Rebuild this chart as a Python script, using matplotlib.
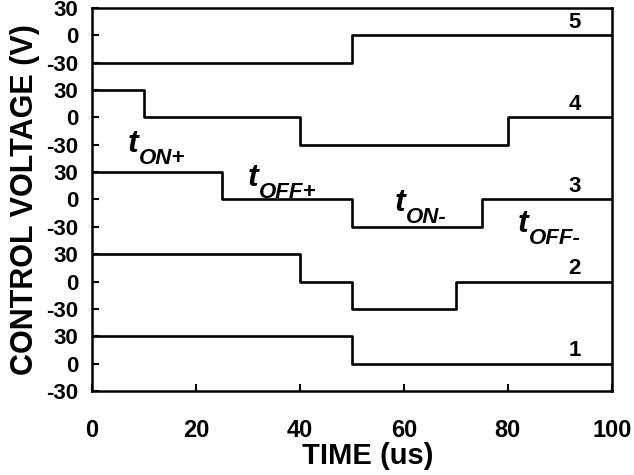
"""
Senales de control escalonadas (5 canales) frente al tiempo.
"""
import matplotlib
matplotlib.use('Agg')
import matplotlib.pyplot as plt

plt.rcParams['font.family'] = ['Liberation Sans', 'DejaVu Sans']
plt.rcParams['font.weight'] = 'bold'

# Datos: instantes de cambio (us) y niveles (V) de cada canal
canales = ['1', '2', '3', '4', '5']
cambios_1 = [0, 50, 100]
niveles_1 = [30, 0]
cambios_2 = [0, 40, 50, 70, 100]
niveles_2 = [30, 0, -30, 0]
cambios_3 = [0, 25, 50, 75, 100]
niveles_3 = [30, 0, -30, 0]
cambios_4 = [0, 10, 40, 80, 100]
niveles_4 = [30, 0, -30, 0]
cambios_5 = [0, 50, 100]
niveles_5 = [-30, 0]

separacion = 90  # desplazamiento vertical entre canales
ticks_y = [-30, 0, 30]
ticks_x = [0, 20, 40, 60, 80, 100]

# Etiquetas de tiempos sobre el canal 3: (subindice, x, y relativo al canal 3)
etiquetas_t = [
    ('ON+', 6.9, 52),
    ('OFF+', 30.0, 15),
    ('ON-', 58.3, -12.5),
    ('OFF-', 81.9, -36),
]

senales = [
    (cambios_1, niveles_1),
    (cambios_2, niveles_2),
    (cambios_3, niveles_3),
    (cambios_4, niveles_4),
    (cambios_5, niveles_5),
]

fig = plt.figure(figsize=(6.34, 4.75), dpi=100)
ax = fig.add_axes([0.145, 0.177, 0.82, 0.806])

for i, (cambios, niveles) in enumerate(senales):
    off = i * separacion
    ys = [v + off for v in niveles] + [niveles[-1] + off]
    ax.step(cambios, ys, where='post', color='black', linewidth=1.9)
    ax.text(92.9, off + 3, canales[i], fontsize=16, fontweight='bold',
            ha='center', va='bottom')

off3 = 2 * separacion
for sub, x, y in etiquetas_t:
    ax.text(x, off3 + y, 't', fontsize=23, fontstyle='italic',
            fontweight='bold', ha='left', va='baseline')
    ax.annotate(sub, xy=(x, off3 + y), xytext=(8, 3),
                textcoords='offset points', fontsize=16, fontstyle='italic',
                fontweight='bold', ha='left', va='top')

ax.set_xlim(0, 100)
ax.set_ylim(-30, 4 * separacion + 30)

pos_y = []
lab_y = []
for i in range(len(canales)):
    for t in ticks_y:
        pos_y.append(i * separacion + t)
        lab_y.append(str(t))
ax.set_yticks(pos_y)
ax.set_yticklabels(lab_y)
ax.set_xticks(ticks_x)

ax.tick_params(axis='y', direction='in', length=5, width=1.5, pad=10,
               labelsize=16)
ax.tick_params(axis='x', direction='in', length=5, width=1.5, pad=20,
               labelsize=17)
for lab in ax.get_xticklabels() + ax.get_yticklabels():
    lab.set_fontweight('bold')

for sp in ax.spines.values():
    sp.set_linewidth(1.8)

ax.set_xlabel('TIME (us)', fontsize=21, fontweight='bold', labelpad=0)
ax.xaxis.set_label_coords(0.53, -0.133)
ax.set_ylabel('CONTROL VOLTAGE (V)', fontsize=22, fontweight='bold',
              labelpad=4)

fig.savefig('out.png', dpi=100)
